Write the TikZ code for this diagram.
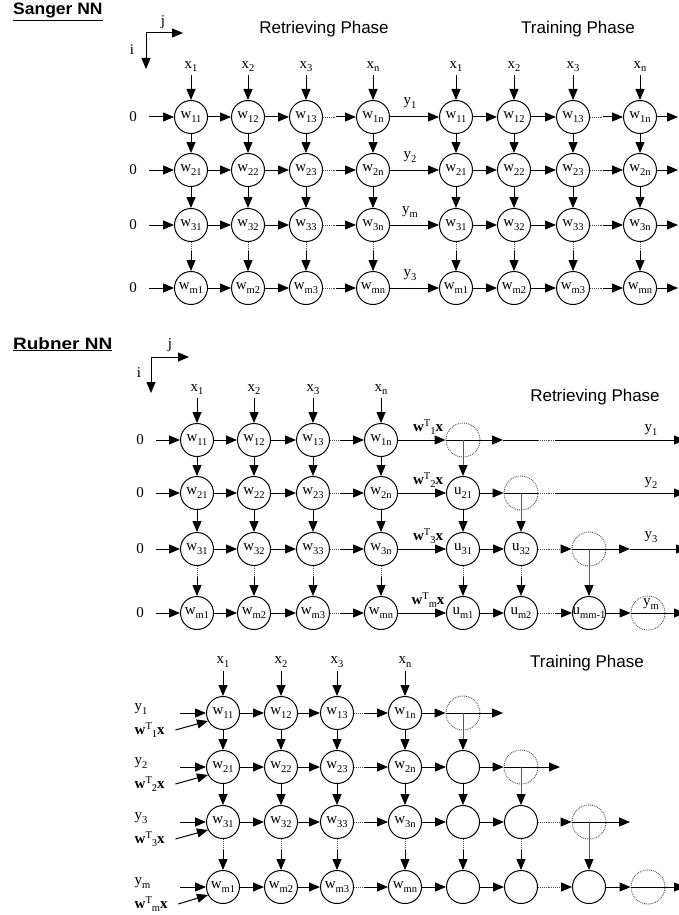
\documentclass[tikz,border=0pt]{standalone}
\usepackage{fontspec}
\setmainfont{Liberation Serif}
\newfontfamily\arialf{Liberation Sans}
\usetikzlibrary{arrows.meta}
\newcommand\ws[2]{#1\raisebox{-3.5pt}{\fontsize{10.5}{10}\selectfont #2}}
\newcommand\wtx[1]{\textbf{w}\raisebox{5pt}{\fontsize{10.5}{10}\selectfont T}\raisebox{-3.5pt}{\fontsize{10.5}{10}\selectfont #1}\textbf{x}}
\newcommand\dotarr[3][0.35]{\path (#2) -- (#3) coordinate[pos=#1] (dotmid); \draw[dl] (#2) -- (dotmid); \draw[arr] (dotmid) -- (#3);}
\tikzset{
  nd/.style={circle, draw, line width=1pt, minimum size=33pt, inner sep=0pt, font=\fontsize{15}{15}\selectfont},
  dnd/.style={circle, draw=black!70, densely dotted, line width=0.9pt, minimum size=34pt, inner sep=0pt},
  arr/.style={-{Triangle[length=11pt,width=9pt]}, line width=1pt},
  varr/.style={-{Triangle[length=11pt,width=9pt,color=black]}, line width=1pt, draw=black!65},
  ln/.style={line width=1pt},
  dl/.style={densely dotted, line width=0.9pt, draw=black!70},
  lbl/.style={font=\fontsize{15}{15}\selectfont, inner sep=0.5pt},
  phase/.style={font=\arialf\fontsize{17}{18}\selectfont, inner sep=0pt},
  ttl/.style={font=\arialf\bfseries\fontsize{16.5}{18}\selectfont, inner sep=0pt, anchor=base west},
}
\begin{document}
\begin{tikzpicture}[x=1pt,y=-1pt]
\useasboundingbox (0,0) rectangle (678,915);
% ================= Sanger =================
\node[ttl] (st) at (13,15) {\underline{\scalebox{1.06}[1]{Sanger NN}}};
\coordinate (sax) at (146,33);
\coordinate (saj) at (183,33);
\coordinate (sai) at (146,69);
\draw[arr] (sax) -- (saj);
\draw[arr] (sax) -- (sai);
\node[lbl] (sj) at (163,22) {j};
\node[lbl] (si) at (132,50) {i};
\node[phase] (sret) at (324,29) {Retrieving Phase};
\node[phase] (strn) at (578,29) {Training Phase};
\foreach \r/\ri/\yy in {1/1/117,2/2/170,3/3/225,4/m/288}{
  \foreach \c/\cj/\xx in {1/1/191,2/2/248,3/3/306,4/n/373,5/1/456,6/2/514,7/3/573,8/n/640}{
    \node[nd] (s\r\c) at (\xx,\yy) {\ws{w}{\ri\cj}};
  }
  \node[lbl] (sz\r) at (133,\yy) {0};
  \draw[arr] ([xshift=12pt]sz\r.east) -- (s\r1);
  \draw[arr] (s\r1) -- (s\r2);
  \draw[arr] (s\r2) -- (s\r3);
  \dotarr[0.4]{s\r3}{s\r4}
  \draw[arr] (s\r4) -- (s\r5);
  \draw[arr] (s\r5) -- (s\r6);
  \draw[arr] (s\r6) -- (s\r7);
  \dotarr[0.4]{s\r7}{s\r8}
  \coordinate (se\r) at (678,\yy);
  \draw[arr] (s\r8) -- (se\r);
}
\foreach \c/\cj/\xx in {1/1/191,2/2/248,3/3/306,4/n/373,5/1/456,6/2/514,7/3/573,8/n/640}{
  \node[lbl] (sx\c) at (\xx,66.5) {\ws{x}{\cj}};
  \draw[arr, shorten <=3pt] (sx\c.south) -- (s1\c);
  \draw[arr] (s1\c) -- (s2\c);
  \draw[arr] (s2\c) -- (s3\c);
  \dotarr[0.3]{s3\c}{s4\c}
}
\node[lbl] (sy1) at (410,103) {\ws{y}{1}};
\node[lbl] (sy2) at (410,157) {\ws{y}{2}};
\node[lbl] (sy3) at (410,212) {\ws{y}{m}};
\node[lbl] (sy4) at (410,275) {\ws{y}{3}};
% ================= Rubner retrieving =================
\node[ttl] (rt) at (13,349) {\underline{\scalebox{1.15}[1]{Rubner NN}}};
\coordinate (rax) at (151,357);
\coordinate (raj) at (189,357);
\coordinate (rai) at (151,393);
\draw[arr] (rax) -- (raj);
\draw[arr] (rax) -- (rai);
\node[lbl] (rj) at (170,345) {j};
\node[lbl] (ri) at (139,373) {i};
\node[phase] (rret) at (595,397) {Retrieving Phase};
\foreach \r/\ri/\yy in {1/1/440,2/2/493,3/3/549,4/m/613}{
  \foreach \c/\cj/\xx in {1/1/197,2/2/254,3/3/313,4/n/381}{
    \node[nd] (r\r\c) at (\xx,\yy) {\ws{w}{\ri\cj}};
  }
  \node[lbl] (rz\r) at (140,\yy) {0};
  \draw[arr] ([xshift=12pt]rz\r.east) -- (r\r1);
  \draw[arr] (r\r1) -- (r\r2);
  \draw[arr] (r\r2) -- (r\r3);
  \dotarr[0.3]{r\r3}{r\r4}
  \node[lbl] (rw\r) at (428,\yy-13) {\wtx{\ri}};
}
\foreach \c/\cj/\xx in {1/1/197,2/2/254,3/3/313,4/n/381}{
  \node[lbl] (rx\c) at (\xx,389.5) {\ws{x}{\cj}};
  \draw[arr, shorten <=3pt] (rx\c.south) -- (r1\c);
  \draw[arr] (r1\c) -- (r2\c);
  \draw[arr] (r2\c) -- (r3\c);
  \dotarr[0.35]{r3\c}{r4\c}
}
\node[nd] (u21) at (463,493) {\ws{u}{21}};
\node[nd] (u31) at (463,549) {\ws{u}{31}};
\node[nd] (u32) at (521,549) {\ws{u}{32}};
\node[nd] (um1) at (463,613) {\ws{u}{m1}};
\node[nd] (um2) at (521,613) {\ws{u}{m2}};
\node[nd, label={[lbl, inner sep=0pt]center:\ws{u}{mm-1}}] (umm) at (589,613) {};
\node[dnd] (rd1) at (463,440) {};
\node[dnd] (rd2) at (521,493) {};
\node[dnd] (rd3) at (589,549) {};
\node[dnd] (rdm) at (648,613) {};
% row 1
\coordinate (ra1) at (503,440);
\coordinate (rb1) at (538,440);
\coordinate (rc1) at (555,440);
\coordinate (re1) at (685,440);
\draw[arr] (r14) -- (rd1);
\draw[arr] (rd1.west) -- (ra1);
\draw[ln] (ra1) -- (rb1);
\draw[dl] (rb1) -- (rc1);
\draw[arr] (rc1) -- (re1);
% row 2
\coordinate (rb2) at (538,493);
\coordinate (rc2) at (555,493);
\coordinate (re2) at (685,493);
\draw[arr] (r24) -- (u21);
\draw[arr] (u21) -- (rd2);
\draw[ln] (rd2.west) -- (rb2);
\draw[dl] (rb2) -- (rc2);
\draw[arr] (rc2) -- (re2);
% row 3
\coordinate (ra3) at (630,549);
\coordinate (re3) at (687,549);
\draw[arr] (r34) -- (u31);
\draw[arr] (u31) -- (u32);
\dotarr[0.7]{u32}{rd3}
\draw[arr] (rd3.west) -- (ra3);
\draw[arr] (ra3) -- (re3);
% row m
\coordinate (re4) at (685,613);
\draw[arr] (r44) -- (um1);
\draw[arr] (um1) -- (um2);
\dotarr[0.5]{um2}{umm}
\draw[arr] (umm) -- (rdm);
\draw[arr] (rdm.west) -- (re4);
% verticals
\draw[varr] (rd1.center) -- (u21);
\draw[arr] (u21) -- (u31);
\dotarr[0.35]{u31}{um1}
\draw[varr] (rd2.center) -- (u32);
\dotarr[0.35]{u32}{um2}
\draw[varr] (rd3.center) -- (umm);
\node[lbl] (ry1) at (651,430) {\ws{y}{1}};
\node[lbl] (ry2) at (651,483) {\ws{y}{2}};
\node[lbl] (ry3) at (651,537) {\ws{y}{3}};
\node[lbl] (ry4) at (651,604) {\ws{y}{m}};
% ================= Rubner training =================
\node[phase] (ttrn) at (587,663) {Training Phase};
\foreach \r/\ri/\yy in {1/1/713,2/2/767,3/3/822,4/m/887}{
  \foreach \c/\cj/\xx in {1/1/223,2/2/281,3/3/337,4/n/405}{
    \node[nd] (t\r\c) at (\xx,\yy) {\ws{w}{\ri\cj}};
  }
  \node[lbl, anchor=west] (ty\r) at (134,\yy-4) {\ws{y}{\ri}};
  \node[lbl, anchor=west] (tw\r) at (134,\yy+17) {\wtx{\ri}};
  \coordinate (th\r) at (180,\yy);
  \draw[arr] (th\r) -- (t\r1);
  \draw[arr] ([xshift=10pt]tw\r.east) -- (t\r1.208);
  \draw[arr] (t\r1) -- (t\r2);
  \draw[arr] (t\r2) -- (t\r3);
  \dotarr[0.3]{t\r3}{t\r4}
}
\foreach \c/\cj/\xx in {1/1/223,2/2/281,3/3/337,4/n/405}{
  \node[lbl] (tx\c) at (\xx,662) {\ws{x}{\cj}};
  \draw[arr, shorten <=3pt] (tx\c.south) -- (t1\c);
  \draw[arr] (t1\c) -- (t2\c);
  \draw[arr] (t2\c) -- (t3\c);
  \dotarr[0.35]{t3\c}{t4\c}
}
\node[nd] (tc21) at (463,767) {};
\node[nd] (tc31) at (463,822) {};
\node[nd] (tc32) at (521,822) {};
\node[nd] (tcm1) at (463,887) {};
\node[nd] (tcm2) at (521,887) {};
\node[nd] (tcm3) at (589,887) {};
\node[dnd] (td1) at (463,713) {};
\node[dnd] (td2) at (521,767) {};
\node[dnd] (td3) at (589,822) {};
\node[dnd] (tdm) at (648,887) {};
\coordinate (ta1) at (503,713);
\coordinate (ta2) at (560,767);
\coordinate (ta3) at (630,822);
\coordinate (te4) at (685,887);
\draw[arr] (t14) -- (td1);
\draw[arr] (td1.west) -- (ta1);
\draw[arr] (t24) -- (tc21);
\draw[arr] (tc21) -- (td2);
\draw[arr] (td2.west) -- (ta2);
\draw[arr] (t34) -- (tc31);
\draw[arr] (tc31) -- (tc32);
\dotarr[0.7]{tc32}{td3}
\draw[arr] (td3.west) -- (ta3);
\draw[arr] (t44) -- (tcm1);
\draw[arr] (tcm1) -- (tcm2);
\dotarr[0.7]{tcm2}{tcm3}
\draw[arr] (tcm3) -- (tdm);
\draw[arr] (tdm.west) -- (te4);
\draw[varr] (td1.center) -- (tc21);
\draw[arr] (tc21) -- (tc31);
\dotarr[0.35]{tc31}{tcm1}
\draw[varr] (td2.center) -- (tc32);
\dotarr[0.35]{tc32}{tcm2}
\draw[varr] (td3.center) -- (tcm3);
\end{tikzpicture}
\end{document}
